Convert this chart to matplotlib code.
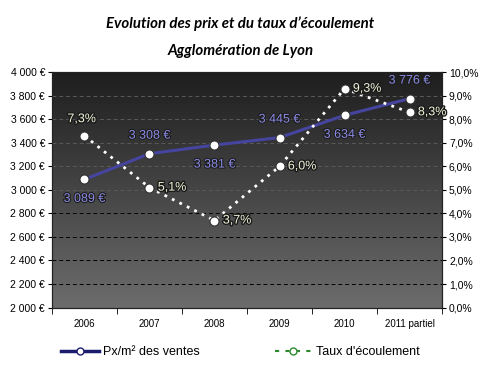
import numpy as np
import matplotlib
matplotlib.use("Agg")
import matplotlib.pyplot as plt
import matplotlib.patheffects as pe
from matplotlib.lines import Line2D

# ======================================================
# Data
# ======================================================
years = ["2006", "2007", "2008", "2009", "2010", "2011 partiel"]
prix = [3089, 3308, 3381, 3445, 3634, 3776]
taux = [7.3, 5.1, 3.7, 6.0, 9.3, 8.3]

prix_pos = ["below", "above", "below", "above", "below", "above"]
taux_pos = ["above", "right", "right", "right", "right", "right"]


def fmt_eur(v):
    s = f"{int(v):,}".replace(",", " ")
    return s + " €"


def fmt_pct(v):
    return f"{v:.1f}".replace(".", ",") + "%"


plt.rcParams["font.family"] = ["Liberation Sans", "DejaVu Sans"]

fig = plt.figure(figsize=(4.81, 3.67), dpi=100)
ax = fig.add_axes([0.108, 0.162, 0.811, 0.641])
ax2 = ax.twinx()

x = np.arange(len(years))

# gradient background
grad = np.linspace(0, 1, 256).reshape(-1, 1)
ax.imshow(grad, extent=[-0.5, len(years) - 0.5, 2000, 4000], aspect="auto",
          cmap=matplotlib.colors.LinearSegmentedColormap.from_list(
              "g", ["#6c6c6c", "#1e1e1e"]), origin="lower", zorder=0)

ax.set_xlim(-0.5, len(years) - 0.5)
ax.set_ylim(2000, 4000)
ax2.set_ylim(0, 10)

# grid
for v in range(2200, 4000, 200):
    col = "#000000" if v <= 2800 else "#5a5a5a"
    ax.axhline(v, color=col, lw=0.7, ls=(0, (4, 3)), zorder=1)

ax.set_yticks(range(2000, 4001, 200))
ax.set_yticklabels([fmt_eur(v) for v in range(2000, 4001, 200)], fontsize=7.5)
ax2.set_yticks(range(0, 11))
ax2.set_yticklabels([fmt_pct(v) for v in range(0, 11)], fontsize=7.5)
ax.set_xticks(x)
ax.set_xticklabels(years, fontsize=7)
ax.set_xticks(np.arange(-0.5, len(years)), minor=True)
ax.tick_params(axis="x", which="major", length=0, pad=8)
ax.tick_params(axis="x", which="minor", length=4)
ax.tick_params(axis="y", length=3, pad=2)
ax2.tick_params(axis="y", length=3, pad=2)

for a in (ax, ax2):
    for s in a.spines.values():
        s.set_color("#222222")
        s.set_linewidth(0.8)

# price line
ax.plot(x, prix, color="#4545a0", lw=2.2, marker="o", ms=6.5,
        mfc="white", mec="#333333", mew=0.8, zorder=5)
blue_fx = [pe.withStroke(linewidth=1.5, foreground="#1a1a1a")]
for xi, v, p in zip(x, prix, prix_pos):
    dy = 13 if p == "above" else -14
    ax.annotate(fmt_eur(v), (xi, v), xytext=(0, dy), textcoords="offset points",
                ha="center", va="center", fontsize=9, color="#8c8ce6",
                path_effects=blue_fx, zorder=7)

# taux line
ax2.plot(x, taux, color="white", lw=2, ls=(0, (1, 2)), marker="o", ms=6.5,
         mfc="white", mec="#333333", mew=0.8, zorder=5)
green_fx = [pe.withStroke(linewidth=2, foreground="#1a1a1a")]
for xi, v, p in zip(x, taux, taux_pos):
    if p == "above":
        off, ha = (-2, 12), "center"
    else:
        off, ha = (6, 0), "left"
    ax2.annotate(fmt_pct(v), (xi, v), xytext=off, textcoords="offset points",
                 ha=ha, va="center", fontsize=9, color="#eef5d8",
                 path_effects=green_fx, zorder=7)

# titles
fig.text(0.5, 0.935, "Evolution des prix et du taux d’écoulement",
         ha="center", va="center", fontsize=10.8, fontweight="bold",
         style="italic", family="Lato")
fig.text(0.5, 0.862, "Agglomération de Lyon", ha="center", va="center",
         fontsize=10.8, fontweight="bold", style="italic", family="Lato")

# legend
h1 = Line2D([], [], color="#1c1c6e", lw=2.5, marker="o", ms=5,
            mfc="white", mec="#1c1c6e")
h2 = Line2D([], [], color="#2e8a2e", lw=1.5, ls=(0, (2, 3)), marker="o", ms=5,
            mfc="white", mec="#2e8a2e")
fig.legend([h1, h2], ["Px/m² des ventes", "Taux d'écoulement"],
           loc="center", bbox_to_anchor=(0.5, 0.04), ncol=2, frameon=False,
           fontsize=9, handlelength=3, columnspacing=6, handletextpad=0.3)

fig.savefig("out.png", dpi=100)
